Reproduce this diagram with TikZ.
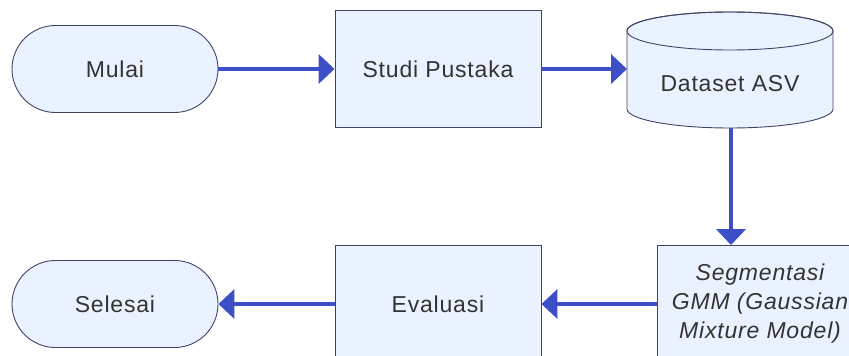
\documentclass[tikz,border=0pt]{standalone}
\usepackage{fontspec}
\setmainfont{Liberation Sans}[LetterSpace=3.5]
\usetikzlibrary{arrows.meta,shapes.misc}
\definecolor{boxfill}{HTML}{EBF2FF}
\definecolor{boxline}{HTML}{3E4466}
\definecolor{flow}{HTML}{3D4FC6}
\definecolor{ink}{HTML}{333333}
\begin{document}
\begin{tikzpicture}[x=1pt,y=1pt,
  every node/.style={font=\fontsize{23}{29}\selectfont, text=ink},
  terminal/.style={rounded rectangle, draw=boxline, fill=boxfill, line width=0.9pt,
    minimum width=206, minimum height=87, inner sep=0pt},
  process/.style={rectangle, draw=boxline, fill=boxfill, line width=0.9pt,
    minimum width=206, minimum height=117, inner sep=0pt, align=center},
  flowline/.style={draw=flow, line width=4pt, -{Triangle[length=16pt,width=29pt]}}]
\clip (0,0) rectangle (849,-356);
\fill[white] (0,0) rectangle (849,-356);

% top row
\node[terminal] (mulai) at (115,-69) {Mulai};
\node[process]  (studi) at (438,-69) {Studi Pustaka};

% data store drawn as an upright cylinder
\fill[boxfill, draw=boxline, line width=0.9pt]
  (627,-31) -- (627,-109) arc[start angle=180, end angle=360, x radius=103, y radius=19]
  -- (833,-31) arc[start angle=0, end angle=180, x radius=103, y radius=19] -- cycle;
\draw[boxline, line width=0.9pt] (730,-31) ellipse[x radius=103, y radius=19];
\node (dataset) at (730,-84) {Dataset ASV};
\coordinate (ds-west)  at (627,-69);
\coordinate (ds-south) at (731,-128);

% bottom row
\node[process]  (gmm)  at (760,-304) {\itshape Segmentasi\\\itshape GMM (Gaussian\\\itshape Mixture Model)};
\node[process]  (eval) at (438,-304) {Evaluasi};
\node[terminal] (selesai) at (115,-304) {Selesai};

% connectors
\draw[flowline] (mulai.east) -- (studi.west);
\draw[flowline] (studi.east) -- (ds-west);
\draw[flowline] (ds-south) -- (ds-south |- gmm.north);
\draw[flowline] (gmm.west) -- (eval.east);
\draw[flowline] (eval.west) -- (selesai.east);
\end{tikzpicture}
\end{document}
